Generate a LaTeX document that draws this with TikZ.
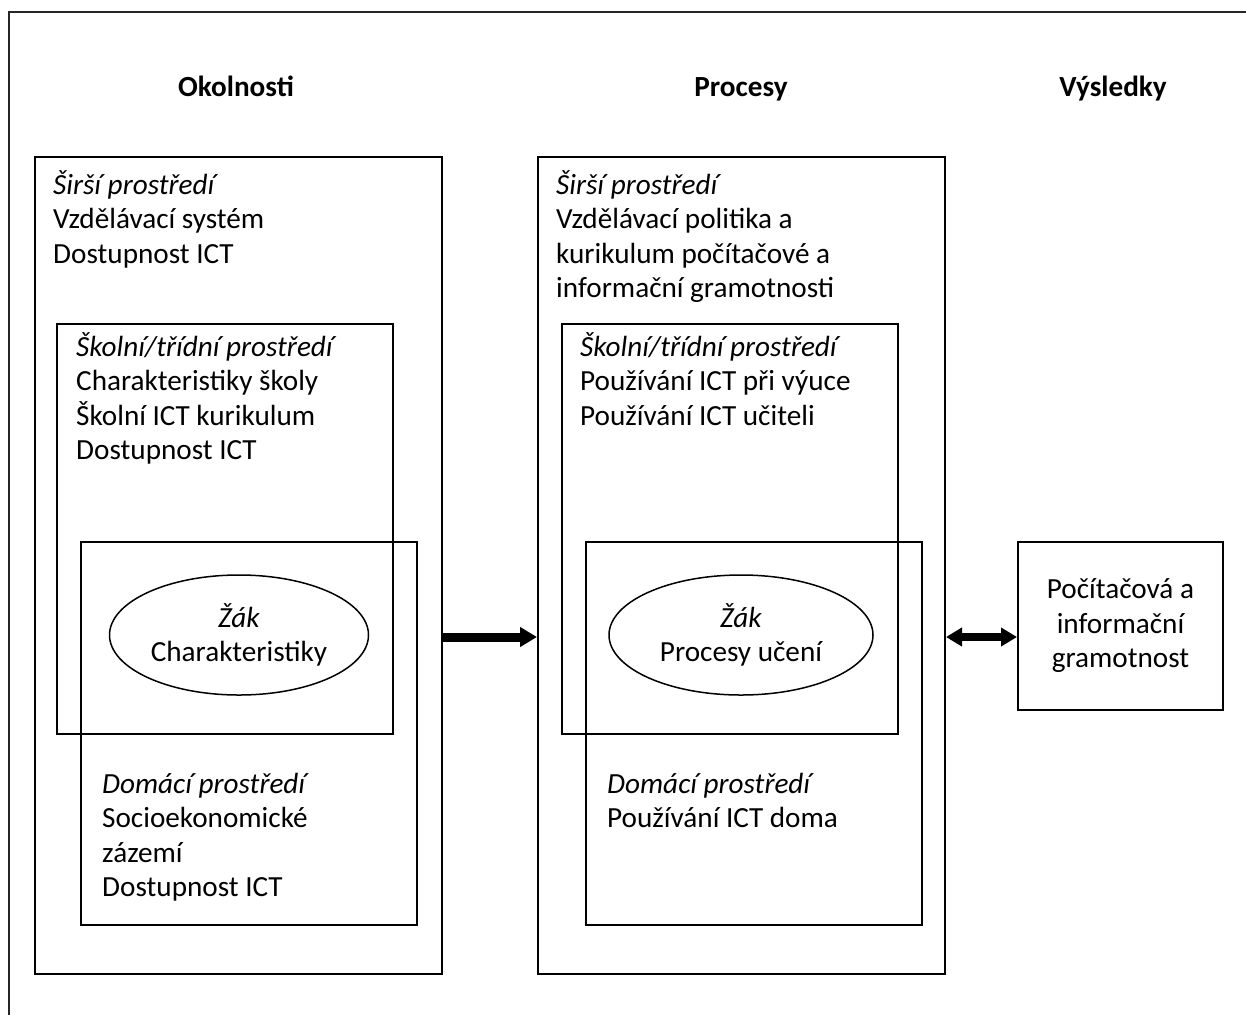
\documentclass[tikz,border=0pt]{standalone}
\usepackage{fontspec}
\setmainfont{Carlito}
\usetikzlibrary{arrows.meta, positioning, shapes.geometric}

\begin{document}
\begin{tikzpicture}[x=1pt, y=-1pt,
  every node/.style={font=\fontsize{29.2}{34.5}\selectfont},
  frame/.style={draw=black!85, line width=1.6pt},
  box/.style={draw, line width=2pt, anchor=north west, inner sep=0pt},
  ell/.style={draw, ellipse, line width=1.5pt, inner sep=0pt, align=center},
  txt/.style={anchor=base west, align=left, inner sep=0pt},
  head/.style={anchor=base, inner sep=0pt, font=\fontsize{29.2}{34.5}\selectfont\bfseries},
  bigarrow/.style={line width=9pt, -{Triangle[length=17pt, width=19pt]}},
  duoarrow/.style={line width=8pt, {Triangle[length=16pt, width=18pt]}-{Triangle[length=16pt, width=18pt]}}]

\useasboundingbox (0,0) rectangle (1246,1015);
\draw[frame] (9,1015) -- (9,12) -- (1246,12);

\node[head] (okol) at (236,96) {Okolnosti};
\node[head] (proc) at (741,96) {Procesy};
\node[head] (vysl) at (1113,96) {Výsledky};

\node[box, minimum width=407pt, minimum height=817pt] (sirL) at (34,156) {};
\node[box, minimum width=336pt, minimum height=410pt] (skolL) at (56,323) {};
\node[box, minimum width=336pt, minimum height=383pt] (domL) at (80,541) {};
\node[ell, minimum width=259pt, minimum height=120pt] (zakL) at (239,635) {\textit{Žák}\\Charakteristiky};

\node[box, minimum width=407pt, minimum height=817pt] (sirR) at (537,156) {};
\node[box, minimum width=336pt, minimum height=410pt] (skolR) at (561,323) {};
\node[box, minimum width=336pt, minimum height=383pt] (domR) at (585,541) {};
\node[ell, minimum width=264pt, minimum height=120pt] (zakR) at (741,635) {\textit{Žák}\\Procesy učení};

\node[box, minimum width=205pt, minimum height=168pt, align=center] (gram) at (1017,541) {};
\node[align=center, inner sep=0pt] (gramT) at (gram.center) {Počítačová a\\informační\\gramotnost};

\node[txt] (sirLT) at (53,263) {\textit{Širší prostředí}\\Vzdělávací systém\\Dostupnost ICT};
\node[txt] (skolLT) at (76,459.5) {\textit{Školní/třídní prostředí}\\Charakteristiky školy\\Školní ICT kurikulum\\Dostupnost ICT};
\node[txt] (domLT) at (102,896.5) {\textit{Domácí prostředí}\\Socioekonomické\\zázemí\\Dostupnost ICT};

\node[txt] (sirRT) at (556,297.5) {\textit{Širší prostředí}\\Vzdělávací politika a\\kurikulum počítačové a\\informační gramotnosti};
\node[txt] (skolRT) at (580,425) {\textit{Školní/třídní prostředí}\\Používání ICT při výuce\\Používání ICT učiteli};
\node[txt] (domRT) at (607,827.5) {\textit{Domácí prostředí}\\Používání ICT doma};

\draw[bigarrow] (zakL -| sirL.east) ++(0,2) -- ([yshift=-2pt]zakR -| sirR.west);
\draw[duoarrow] ([yshift=-2pt]zakR -| sirR.east) -- ([yshift=-2pt]zakR -| gram.west);

\end{tikzpicture}
\end{document}
